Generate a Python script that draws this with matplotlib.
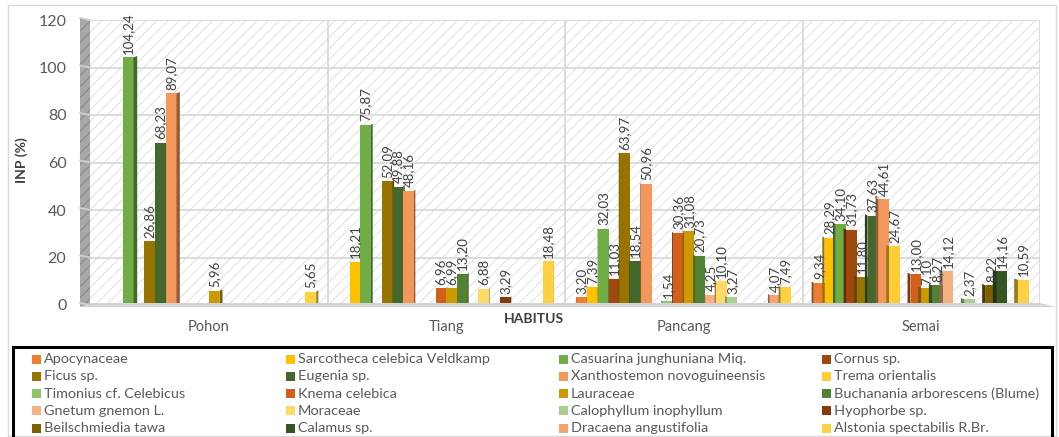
import matplotlib
matplotlib.use("Agg")
import matplotlib.pyplot as plt
from matplotlib.patches import Rectangle, Polygon
from matplotlib import colors as mcolors

plt.rcParams['font.family'] = ['Lato', 'DejaVu Sans']
plt.rcParams['hatch.linewidth'] = 0.8

# ---- data -------------------------------------------------------------
categories = ["Pohon", "Tiang", "Pancang", "Semai"]

species = [
    "Apocynaceae", "Sarcotheca celebica Veldkamp", "Casuarina junghuniana Miq.", "Cornus sp.",
    "Ficus sp.", "Eugenia sp.", "Xanthostemon novoguineensis", "Trema orientalis",
    "Timonius cf. Celebicus", "Knema celebica", "Lauraceae", "Buchanania arborescens (Blume)",
    "Gnetum gnemon L.", "Moraceae", "Calophyllum inophyllum", "Hyophorbe sp.",
    "Beilschmiedia tawa", "Calamus sp.", "Dracaena angustifolia", "Alstonia spectabilis R.Br.",
]

# INP (%) per species, one list per habitus (0 = species absent)
pohon   = [0, 0, 104.24, 0, 26.86, 68.23, 89.07, 0, 0, 0, 5.96, 0, 0, 0, 0, 0, 0, 0, 0, 5.65]
tiang   = [0, 18.21, 75.87, 0, 52.09, 49.88, 48.16, 0, 0, 6.96, 6.99, 13.20, 0, 6.88, 0, 3.29, 0, 0, 0, 18.48]
pancang = [3.20, 7.39, 32.03, 11.03, 63.97, 18.54, 50.96, 0, 1.54, 30.36, 31.08, 20.73, 4.25, 10.10, 3.27, 0, 0, 0, 4.07, 7.49]
semai   = [9.34, 28.29, 34.10, 31.73, 11.80, 37.63, 44.61, 24.67, 0, 13.00, 7.10, 8.27, 14.12, 0, 2.37, 0, 8.22, 14.16, 0, 10.59]

colors = [
    "#ED7D31", "#FFC000", "#70AD47", "#9E480E",
    "#997300", "#43682B", "#F4975A", "#FFCD33",
    "#8FC26A", "#D2601A", "#CC9A00", "#548235",
    "#F4B183", "#FFD966", "#A9D08E", "#843C0C",
    "#7F6000", "#375623", "#F4A46C", "#FFD040",
]

yticks = [0, 20, 40, 60, 80, 100, 120]

# ---- figure geometry (pixels) -----------------------------------------
W, H = 1059, 437
fig = plt.figure(figsize=(W / 100, H / 100), dpi=100)

def fx(x):
    return x / W

def fy(y):
    return 1 - y / H

ax_l, ax_r, ax_top, ax_bot = 90, 1040, 20, 305
ax = fig.add_axes([fx(ax_l), fy(ax_bot), (ax_r - ax_l) / W, (ax_bot - ax_top) / H])
ax.set_xlim(0, len(categories))
ax.set_ylim(0, 120)
px_x = (ax_r - ax_l) / len(categories)   # pixels per x data unit
px_y = (ax_bot - ax_top) / 120.0         # pixels per y data unit

for s in ax.spines.values():
    s.set_visible(False)
ax.patch.set_visible(False)

# outer chart frame
fig.patches.append(Rectangle((fx(8), fy(436)), fx(1048), (436 - 5) / H,
                             transform=fig.transFigure, fill=False,
                             edgecolor="#d9d9d9", linewidth=1.0, zorder=0))

# back wall with light diagonal hatching
ax.add_patch(Rectangle((0, 0), len(categories), 120, facecolor="white",
                       edgecolor="#e3e3e3", hatch="///", linewidth=0, zorder=0))

# left side wall
wall = Polygon([(fx(80), fy(307)), (fx(80), fy(18)), (fx(90), fy(21)), (fx(90), fy(304))],
               closed=True, transform=fig.transFigure, facecolor="#a8a8a8",
               edgecolor="#8a8a8a", hatch="///", linewidth=0, zorder=1)
fig.patches.append(wall)

# floor
floor = Polygon([(fx(80), fy(307)), (fx(1056), fy(307)), (fx(1040), fy(303)), (fx(90), fy(303))],
                closed=True, transform=fig.transFigure, facecolor="#d4d4d4",
                edgecolor="none", zorder=1)
fig.patches.append(floor)

# gridlines on back wall and side wall
for t in yticks:
    ax.axhline(t, color="#d9d9d9", linewidth=1.3, zorder=1)
    yy = ax_bot - t * px_y
    fig.add_artist(plt.Line2D([fx(80), fx(90)], [fy(yy - 2), fy(yy)], color="#d0d0d0",
                              linewidth=1.3, transform=fig.transFigure, zorder=2))
for b in range(1, len(categories) + 1):
    ax.axvline(b, color="#d9d9d9", linewidth=1.3, zorder=1)

# ---- bars ---------------------------------------------------------------
series_by_cat = [pohon, tiang, pancang, semai]
n = len(species)
group_w = 0.905
slot = group_w / n
centre_px = (ax_l + ax_r) / 2

for ci, vals in enumerate(series_by_cat):
    for si, v in enumerate(vals):
        if v <= 0:
            continue
        x0 = ci + (1 - group_w) / 2 + si * slot
        x1 = x0 + slot
        col = colors[si]
        ax.bar(x0, v, width=slot, align="edge", color=col, edgecolor="none", zorder=3)

        # perspective side face
        xc_px = ax_l + (x0 + slot / 2) * px_x
        off = (xc_px - centre_px) / (centre_px - ax_l)
        sw = 4.0 * abs(off) / px_x
        dy = 1.5 / px_y
        dark = tuple(c * 0.6 for c in mcolors.to_rgb(col))
        if off < 0:
            poly = [(x1, 0), (x1, v), (x1 + sw, v + dy), (x1 + sw, dy)]
        else:
            poly = [(x0, 0), (x0, v), (x0 - sw, v + dy), (x0 - sw, dy)]
        ax.add_patch(Polygon(poly, closed=True, facecolor=dark, edgecolor="none", zorder=3))

        label = f"{v:.2f}".replace(".", ",")
        ax.text(x0 + slot / 2, v + 3.5 / px_y, label, rotation=90, ha="center", va="bottom",
                fontsize=9.5, color="#404040", zorder=4)

# ---- axes text ------------------------------------------------------------
ax.set_xticks([i + 0.5 for i in range(len(categories))])
ax.set_xticklabels(categories, fontsize=10.5, color="#595959")
ax.set_yticks(yticks)
ax.set_yticklabels([str(t) for t in yticks], fontsize=11.5, color="#595959")
ax.tick_params(axis="x", length=0, pad=11)
ax.tick_params(axis="y", length=0, pad=17)

fig.text(fx(534), fy(319), "HABITUS", ha="center", va="center", fontsize=10,
         fontweight="bold", color="#404040")
fig.text(fx(22), fy(160), "INP (%)", ha="center", va="center", rotation=90, fontsize=10,
         fontweight="bold", color="#404040")

# ---- legend -----------------------------------------------------------------
fig.patches.append(Rectangle((fx(13), fy(440)), (1052 - 13) / W, (440 - 347) / H,
                             transform=fig.transFigure, fill=False, edgecolor="black",
                             linewidth=2.2, zorder=5))
col_x = [36, 290, 563, 826]
row_y0, row_dy = 359, 17.3
for i, name in enumerate(species):
    c, r = i % 4, i // 4
    xm, ym = col_x[c], row_y0 + r * row_dy
    fig.patches.append(Rectangle((fx(xm - 4), fy(ym + 4.5)), 9 / W, 9 / H,
                                 transform=fig.transFigure, facecolor=colors[i],
                                 edgecolor="none", zorder=6))
    fig.text(fx(xm + 8), fy(ym), name, ha="left", va="center", fontsize=10.4,
             color="#595959", zorder=6)

fig.savefig("out.png", dpi=100)
